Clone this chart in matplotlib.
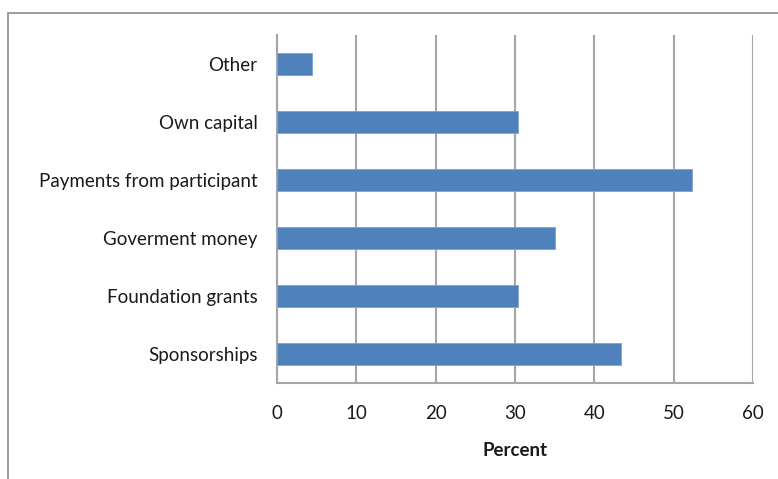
import matplotlib.pyplot as plt
from matplotlib.patches import Rectangle

categories = ["Sponsorships", "Foundation grants", "Goverment money",
              "Payments from participant", "Own capital", "Other"]
percent = [43.3, 30.4, 35.0, 52.3, 30.4, 4.4]
xticks = [0, 10, 20, 30, 40, 50, 60]

plt.rcParams['font.family'] = ['Lato', 'DejaVu Sans']

W, H = 778, 479
fig = plt.figure(figsize=(W / 100, H / 100), dpi=100)
ax = fig.add_axes([277 / W, 1 - 383 / H, (753 - 277) / W, (383 - 35) / H])

# chart border, clipped at right and bottom like the original
fig.patches.append(Rectangle((8 / W, -0.1), 1.2, 1 - 13 / H + 0.1,
                             transform=fig.transFigure, fill=False,
                             edgecolor='#8c8c8c', linewidth=1.2))

ypos = range(len(categories))
ax.barh(ypos, percent, height=0.38, color='#4f81bd', edgecolor='#7da2d0',
        linewidth=0.6, zorder=3)
ax.set_ylim(-0.5, len(categories) - 0.5)
ax.set_xlim(0, 60)
ax.set_yticks(list(ypos))
ax.set_yticklabels(categories, fontsize=13.5, color='#1a1a1a')
ax.set_xticks(xticks)
ax.set_xticklabels([str(t) for t in xticks], fontsize=13.5, color='#1a1a1a')
ax.tick_params(axis='both', length=0)
ax.tick_params(axis='y', pad=14)
ax.tick_params(axis='x', pad=16)
ax.xaxis.grid(True, color='#a6a6a6', linewidth=1.5, zorder=0)
ax.set_axisbelow(True)
for s in ['top', 'right']:
    ax.spines[s].set_visible(False)
for s in ['left', 'bottom']:
    ax.spines[s].set_color('#a6a6a6')
    ax.spines[s].set_linewidth(1.5)
ax.set_xlabel("Percent", fontsize=13.5, fontweight='bold', color='#1a1a1a', labelpad=14)

fig.savefig("out.png", dpi=100)
